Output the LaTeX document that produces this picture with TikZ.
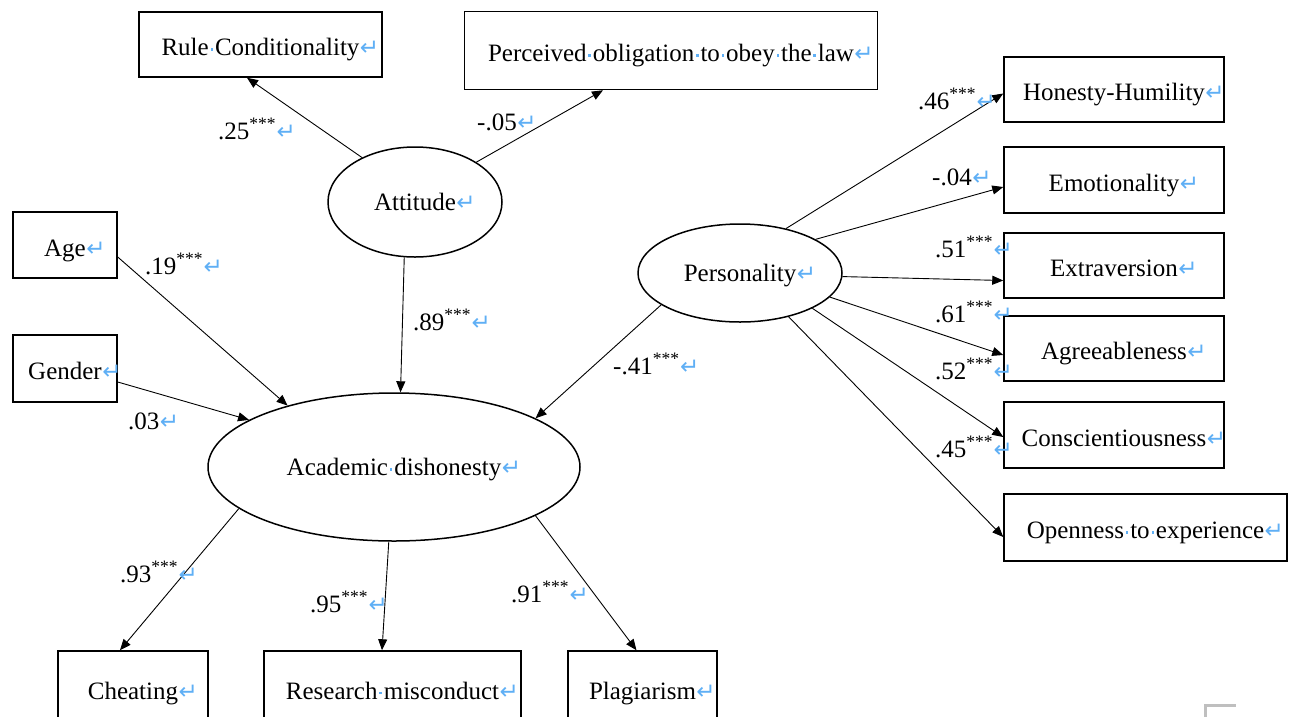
\documentclass[tikz,border=0pt]{standalone}
\usepackage{fontspec}
\setmainfont{Liberation Serif}
\newfontfamily\markfont{DejaVu Sans}
\usetikzlibrary{shapes.geometric,arrows.meta}
\definecolor{markblue}{RGB}{95,175,245}
\newcommand\ret{\rlap{\kern0.5pt\textcolor{markblue}{\markfont\fontsize{23}{23}\selectfont ↵}}}
\newcommand\wdot{\makebox[0.25em]{\raisebox{0.42ex}{\textcolor{markblue}{\rule{2.6pt}{2.6pt}}}}}
\begin{document}
\begin{tikzpicture}[x=1pt,y=-1pt,font=\fontsize{25}{28}\selectfont,
  obs/.style={draw,line width=1.5pt,inner sep=0pt,minimum height=66pt,text height=22pt,text depth=0pt},
  lat/.style={draw,ellipse,line width=1.5pt,inner sep=0pt,text height=17pt,text depth=0pt},
  link/.style={-{Triangle[length=11pt,width=9pt]},line width=0.9pt},
  coef/.style={anchor=base west,inner sep=0pt}]
\useasboundingbox (0,0) rectangle (1293,716);
\clip (0,0) rectangle (1293,716);
\node[obs,minimum width=243pt,minimum height=65pt] (rule) at (260.5,44.5) {Rule\wdot Conditionality\ret};
\node[obs,minimum width=413pt,minimum height=78pt] (oblig) at (671,50.5) {Perceived\wdot obligation\wdot to\wdot obey\wdot the\wdot law\ret};
\node[obs,minimum width=104pt] (age) at (65,245) {Age\ret};
\node[obs,minimum width=104pt,minimum height=67pt] (gender) at (65,368.5) {Gender\ret};
\node[lat,minimum width=174pt,minimum height=110pt] (att) at (415,202) {Attitude\ret};
\node[lat,minimum width=372pt,minimum height=148pt] (acad) at (394,467) {Academic\wdot dishonesty\ret};
\node[lat,minimum width=204pt,minimum height=98pt] (pers) at (740,273) {Personality\ret};
\node[obs,minimum width=220pt,minimum height=65pt] (honesty) at (1114,89.5) {Honesty-Humility\ret};
\node[obs,minimum width=220pt] (emotion) at (1114,180) {Emotionality\ret};
\node[obs,minimum width=220pt,minimum height=65pt] (extra) at (1114,265.5) {Extraversion\ret};
\node[obs,minimum width=220pt,minimum height=65pt] (agree) at (1114,348.5) {Agreeableness\ret};
\node[obs,minimum width=220pt] (consc) at (1114,435) {Conscientiousness\ret};
\node[obs,minimum width=283pt,minimum height=67pt] (open) at (1145.5,527.5) {Openness\wdot to\wdot experience\ret};
\node[obs,minimum width=150pt,minimum height=74pt] (cheat) at (133,688) {Cheating\ret};
\node[obs,minimum width=257pt,minimum height=74pt] (misc) at (392.5,688) {Research\wdot misconduct\ret};
\node[obs,minimum width=149pt,minimum height=74pt] (plag) at (642.5,688) {Plagiarism\ret};
\draw[link] (att.140) -- ([xshift=-13.5pt]rule.south);
\draw[link] (att.33) -- ([xshift=-68pt]oblig.south);
\draw[link] (att.259) -- (acad.85);
\draw[link] ([yshift=-12pt]age.east) -- (acad.150);
\draw[link] ([yshift=-13.5pt]gender.east) -- (acad.162);
\draw[link] (pers.202) -- (acad.19);
\draw[link] (pers.44) -- ([yshift=-4pt]honesty.west);
\draw[link] (pers.24) -- ([yshift=-7pt]emotion.west);
\draw[link] (pers.358) -- ([yshift=-15pt]extra.west);
\draw[link] (pers.345) -- ([yshift=-6.5pt]agree.west);
\draw[link] (pers.334) -- ([yshift=-2pt]consc.west);
\draw[link] (pers.318) -- ([yshift=-9.5pt]open.west);
\draw[link] (acad.195) -- ([xshift=-13pt]cheat.north);
\draw[link] (acad.266) -- ([xshift=-10.5pt]misc.north);
\draw[link] (acad.341) -- ([xshift=-6pt]plag.north);
\node[coef] (c1) at (218,139) {.25\textsuperscript{***}\ret};
\node[coef] (c2) at (477,130) {-.05\ret};
\node[coef] (c3) at (145,274) {.19\textsuperscript{***}\ret};
\node[coef] (c4) at (128,429) {.03\ret};
\node[coef] (c5) at (413,330) {.89\textsuperscript{***}\ret};
\node[coef] (c6) at (613,374) {-.41\textsuperscript{***}\ret};
\node[coef] (c7) at (918,109) {.46\textsuperscript{***}\ret};
\node[coef] (c8) at (932,185) {-.04\ret};
\node[coef] (c9) at (935,257) {.51\textsuperscript{***}\ret};
\node[coef] (c10) at (935,322) {.61\textsuperscript{***}\ret};
\node[coef] (c11) at (935,379) {.52\textsuperscript{***}\ret};
\node[coef] (c12) at (935,457) {.45\textsuperscript{***}\ret};
\node[coef] (c13) at (120,582) {.93\textsuperscript{***}\ret};
\node[coef] (c14) at (310,612) {.95\textsuperscript{***}\ret};
\node[coef] (c15) at (511,602) {.91\textsuperscript{***}\ret};
\draw[gray!50,line width=3pt] (1205,718) -- (1205,705.5) -- (1236,705.5);
\end{tikzpicture}
\end{document}
